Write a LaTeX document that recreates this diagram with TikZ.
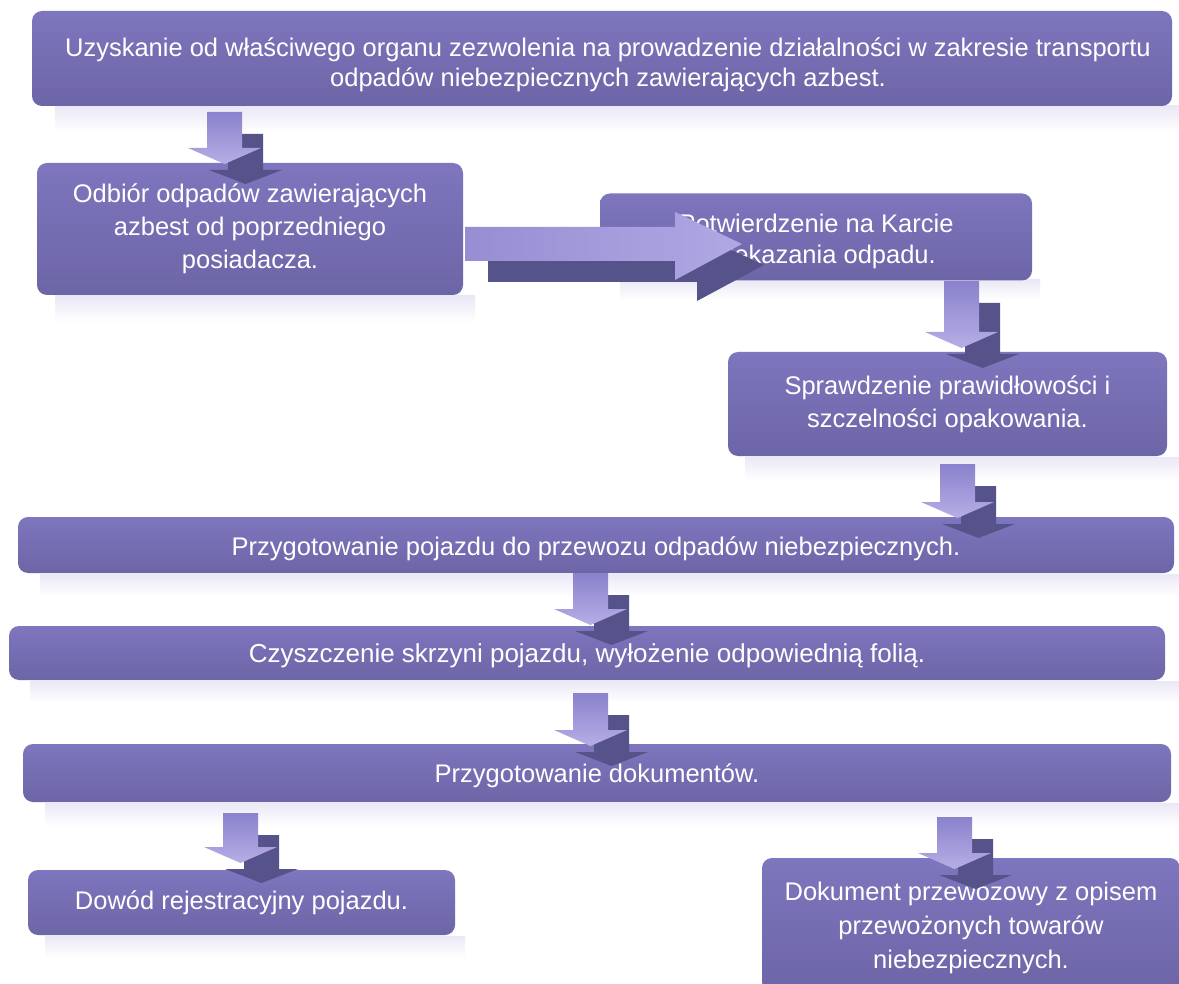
\documentclass[tikz,border=0pt]{standalone}
\usepackage{fontspec}
\setmainfont{Liberation Sans}
\newcommand\myupstrut[1]{\rule{0pt}{#1}}
\begin{document}
\begin{tikzpicture}[x=1pt,y=-1pt,
  box/.style={rounded corners=10pt, inner sep=0pt, align=center, text=white,
    top color={rgb,255:red,126;green,118;blue,190}, bottom color={rgb,255:red,108;green,101;blue,166},
    font=\fontsize{25.5}{33}\selectfont},
  refl/.style={top color={rgb,255:red,234;green,232;blue,246}, bottom color=white},
  arrlight/.style={top color={rgb,255:red,138;green,130;blue,204}, bottom color={rgb,255:red,182;green,174;blue,230}},
  arrlighth/.style={left color={rgb,255:red,150;green,142;blue,210}, right color={rgb,255:red,176;green,168;blue,228}},
  arrshadow/.style={fill={rgb,255:red,86;green,82;blue,138}}
]
\newcommand\blockdown[4]{% name, shaft left x, top y, head base y
  \coordinate (#1) at (#2+17,#3);
  \fill[arrshadow] (#2+21,#3+22) -- (#2+56,#3+22) -- (#2+56,#4+22) -- (#2+75,#4+22)
     -- (#2+38.5,#4+36) -- (#2+2,#4+22) -- (#2+21,#4+22) -- cycle;
  \shade[arrlight] (#2,#3) -- (#2+35,#3) -- (#2+35,#4) -- (#2+54,#4)
     -- (#2+17.5,#4+16) -- (#2-19,#4) -- (#2,#4) -- cycle;
}
\useasboundingbox (0,0) rectangle (1179,984);
\fill[white] (0,0) rectangle (1179,984);
% reflections
\shade[refl] (55,106) rectangle (1179,132);
\shade[refl] (55,296) rectangle (475,322);
\shade[refl] (620,280) rectangle (1040,300);
\shade[refl] (745,457) rectangle (1179,480);
\shade[refl] (40,574) rectangle (1179,596);
\shade[refl] (30,681) rectangle (1179,703);
\shade[refl] (45,803) rectangle (1179,826);
\shade[refl] (45,936) rectangle (465,958);
% boxes
\node[box, minimum width=1140pt, minimum height=95pt, font=\fontsize{25.5}{30.5}\selectfont] (n1) at (602,58.5)
  {\myupstrut{31pt}\hspace*{12pt}Uzyskanie od właściwego organu zezwolenia na prowadzenie działalności w zakresie transportu\\\hspace*{12pt}odpadów niebezpiecznych zawierających azbest.};
\node[box, minimum width=426pt, minimum height=132pt] (n2) at (250,229)
  {Odbiór odpadów zawierających\\azbest od poprzedniego\\posiadacza.};
\node[box, minimum width=432pt, minimum height=87pt, font=\fontsize{25.5}{31}\selectfont] (n3) at (816,237)
  {\myupstrut{27pt}Potwierdzenie na Karcie\\Przekazania odpadu.};
\node[box, minimum width=439pt, minimum height=104pt] (n4) at (947.5,404)
  {Sprawdzenie prawidłowości i\\szczelności opakowania.};
\node[box, minimum width=1156pt, minimum height=56pt] (n5) at (596,545)
  {\myupstrut{27pt}Przygotowanie pojazdu do przewozu odpadów niebezpiecznych.};
\node[box, minimum width=1156pt, minimum height=54pt, font=\fontsize{26}{33}\selectfont] (n6) at (587,653)
  {\myupstrut{25pt}Czyszczenie skrzyni pojazdu, wyłożenie odpowiednią folią.};
\node[box, minimum width=1148pt, minimum height=58pt] (n7) at (597,773)
  {\myupstrut{25pt}Przygotowanie dokumentów.};
\node[box, minimum width=427pt, minimum height=65pt] (n8) at (241.5,902.5)
  {Dowód rejestracyjny pojazdu.};
\node[box, minimum width=418pt, minimum height=134pt, font=\fontsize{25.5}{34}\selectfont] (n9) at (971,925)
  {\myupstrut{25pt}Dokument przewozowy z opisem\\przewożonych towarów\\niebezpiecznych.};
% block arrows
\blockdown{a1}{207}{112}{148}
\coordinate (h1) at (465,244);
\fill[arrshadow] (488,248) -- (697,248) -- (697,234) -- (764,265) -- (697,301) -- (697,282) -- (488,282) -- cycle;
\shade[arrlighth] (465,227) -- (675,227) -- (675,212) -- (742,244) -- (675,280) -- (675,261) -- (465,261) -- cycle;
\blockdown{a2}{944}{281}{332}
\blockdown{a3}{940}{464}{502}
\blockdown{a4}{573}{573}{609}
\blockdown{a5}{573}{693}{730}
\blockdown{a6}{223}{813}{847}
\blockdown{a7}{937}{817}{853}
\end{tikzpicture}
\end{document}
